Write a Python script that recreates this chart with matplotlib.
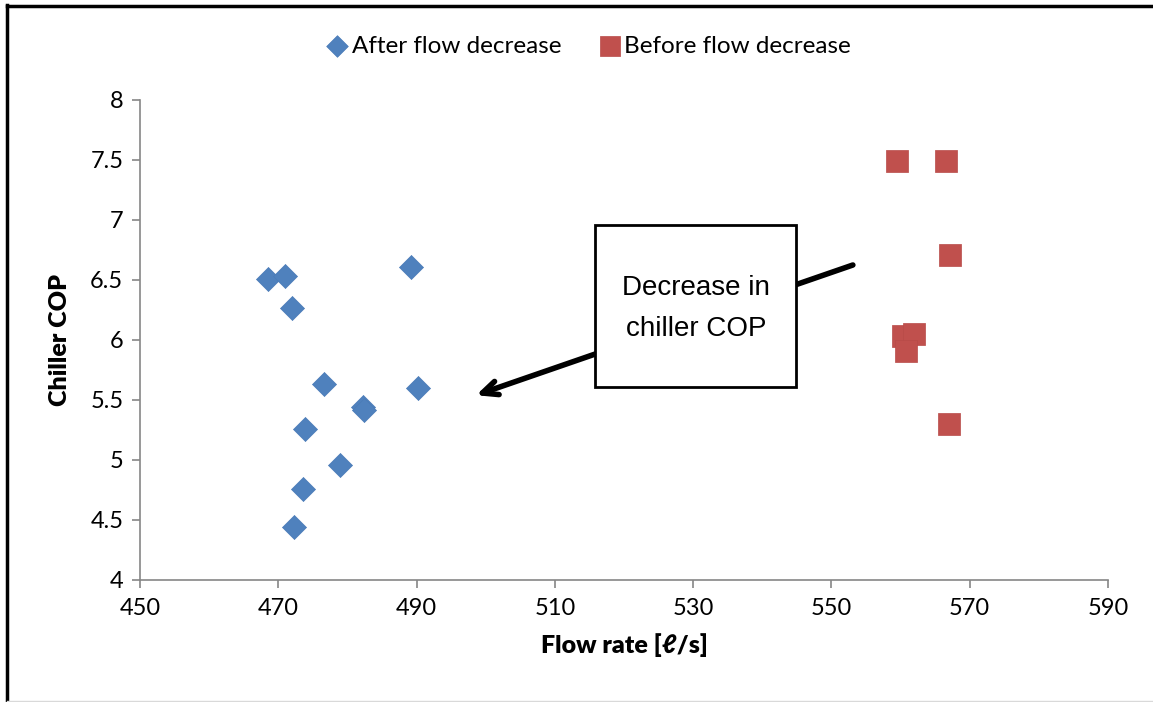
import matplotlib.pyplot as plt
from matplotlib.lines import Line2D
from matplotlib.patches import Rectangle

# Daten
after_flow = [468.5, 471.0, 472.0, 489.2, 476.6, 490.2, 482.3, 482.4, 473.9, 478.9, 473.6, 472.3]
after_cop = [6.51, 6.53, 6.27, 6.61, 5.63, 5.60, 5.44, 5.42, 5.26, 4.96, 4.76, 4.44]
before_flow = [559.5, 566.5, 567.2, 560.3, 562.0, 560.8, 567.0]
before_cop = [7.49, 7.49, 6.71, 6.03, 6.05, 5.91, 5.30]

x_ticks = [450, 470, 490, 510, 530, 550, 570, 590]
y_ticks = [4, 4.5, 5, 5.5, 6, 6.5, 7, 7.5, 8]
y_tick_labels = ['4', '4.5', '5', '5.5', '6', '6.5', '7', '7.5', '8']

W, H = 1153, 702
fig = plt.figure(figsize=(W / 100, H / 100), dpi=100)
ax = fig.add_axes([140 / W, 1 - 580 / H, (1108 - 140) / W, (580 - 100) / H])

fonts = ['Lato', 'DejaVu Sans']
grey = '#868686'

ax.scatter(after_flow, after_cop, marker='D', s=150, color='#4f81bd', edgecolors='#4a7bb7',
           linewidths=0.5, label='After flow decrease', zorder=3)
ax.scatter(before_flow, before_cop, marker='s', s=260, color='#c0504d', edgecolors='#b84b48',
           linewidths=0.5, label='Before flow decrease', zorder=3)

ax.set_xlim(450, 590)
ax.set_ylim(4, 8)
ax.set_xticks(x_ticks)
ax.set_yticks(y_ticks)
ax.set_yticklabels(y_tick_labels)
for lab in ax.get_xticklabels() + ax.get_yticklabels():
    lab.set_family(fonts)
    lab.set_fontsize(17)
ax.tick_params(axis='both', color=grey, length=6, width=1.2)
ax.tick_params(axis='x', pad=7)
ax.tick_params(axis='y', pad=6)
for side in ['top', 'right']:
    ax.spines[side].set_visible(False)
for side in ['left', 'bottom']:
    ax.spines[side].set_color(grey)
    ax.spines[side].set_linewidth(1.2)

ax.set_xlabel('Flow rate [ℓ/s]', family=fonts, fontsize=18, fontweight='heavy', labelpad=10)
ax.set_ylabel('Chiller COP', family=fonts, fontsize=18, fontweight='heavy', labelpad=14)

# Legende oben
leg = fig.legend(loc='center', bbox_to_anchor=(0.51, 1 - 46 / H), ncol=2, frameon=False,
                 prop={'family': fonts, 'size': 17.5}, handletextpad=0.1, columnspacing=1.5,
                 handlelength=1.0, markerscale=0.9)

# Pfeil hinter dem Textfeld
ax.annotate('', xy=(498.6, 5.54), xytext=(553.1, 6.625),
            arrowprops=dict(arrowstyle='->,head_length=1.1,head_width=0.5', color='black',
                            lw=4, shrinkA=0, shrinkB=0, joinstyle='round', capstyle='round'),
            zorder=4)

# Textfeld
box = Rectangle((595 / W, 1 - 387 / H), (796 - 595) / W, (387 - 225) / H, transform=fig.transFigure,
                facecolor='white', edgecolor='black', linewidth=2, zorder=5)
fig.add_artist(box)
fig.text(696 / W, 1 - 308 / H, 'Decrease in\nchiller COP', ha='center', va='center',
         family=['Liberation Sans'], fontsize=20, linespacing=1.75, zorder=6)

# Rahmen
fig.add_artist(Line2D([7 / W, 7 / W], [0, 1 - 5 / H], transform=fig.transFigure, color='black', lw=2.5))
fig.add_artist(Line2D([7 / W, 1], [1 - 6 / H, 1 - 6 / H], transform=fig.transFigure, color='black', lw=2.5))
fig.add_artist(Line2D([7 / W, 1], [1.5 / H, 1.5 / H], transform=fig.transFigure, color='#d9d9d9', lw=1))

fig.savefig('out.png', dpi=100)
